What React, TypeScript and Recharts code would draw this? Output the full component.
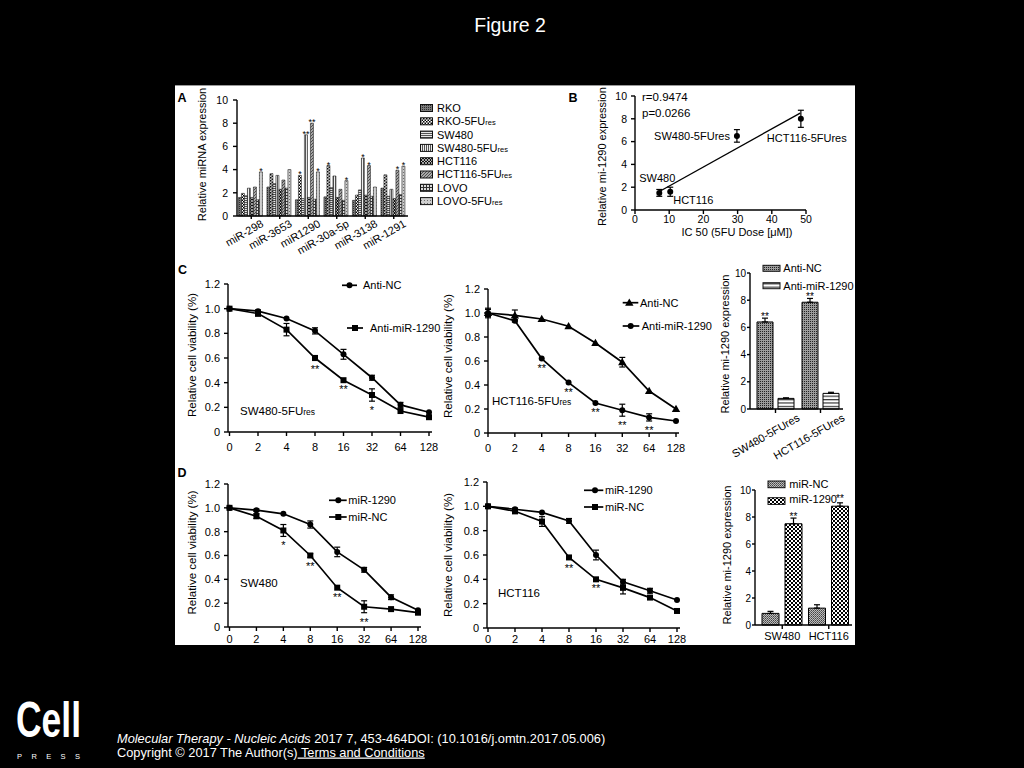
import React from "react";
import {
  Bar,
  BarChart,
  ErrorBar,
  LabelList,
  Line,
  LineChart,
  ReferenceLine,
  Scatter,
  ScatterChart,
  XAxis,
  YAxis,
} from "recharts";

// ---- A: miRNA expression in parental vs 5FU-resistant lines ----
const miRNAs = ["miR-298", "miR-3653", "miR1290", "miR-30a-5p", "miR-3138", "miR-1291"];
const cellLines = ["RKO", "RKO-5FUres", "SW480", "SW480-5FUres", "HCT116", "HCT116-5FUres", "LOVO", "LOVO-5FUres"];
const rko = [1.6, 2.5, 1.4, 1.65, 1.35, 2.4];
const rko5fu = [1.95, 3.65, 3.5, 4.35, 1.8, 3.55];
const sw480 = [1.75, 2.8, 1.5, 2.45, 2.25, 1.7];
const sw4805fu = [2.4, 3.5, 7.0, 3.45, 5.0, 2.3];
const hct116 = [1.6, 2.3, 1.6, 1.6, 1.8, 1.5];
const hct1165fu = [2.5, 3.1, 8.0, 2.3, 4.35, 3.95];
const lovo = [1.4, 2.4, 1.45, 1.35, 1.7, 1.85];
const lovo5fu = [3.8, 4.0, 3.8, 3.05, 2.5, 4.3];
const rko5fuSig = ["", "", "*", "*", "", ""];
const sw4805fuSig = ["", "", "**", "", "*", ""];
const hct1165fuSig = ["", "", "**", "", "*", "*"];
const lovo5fuSig = ["*", "", "*", "*", "", "*"];

// ---- B: miR-1290 vs IC50 ----
const bCells = ["SW480", "HCT116", "SW480-5FUres", "HCT116-5FUres"];
const bIC50 = [7.1, 10.3, 29.8, 48.5];
const bExpr = [1.5, 1.6, 6.5, 8.0];
const bErr = [0.3, 0.4, 0.55, 0.75];
const bFitX = [7, 48.3];
const bFitY = [1.6, 8.5];
const bStats = ["r=0.9474", "p=0.0266"];

// ---- C / D: viability curves ----
const doses = ["0", "2", "4", "8", "16", "32", "64", "128"];
const cSeriesNames = ["Anti-NC", "Anti-miR-1290"];
const dSeriesNames = ["miR-1290", "miR-NC"];

const cSwAntiNC = [1.0, 0.98, 0.92, 0.82, 0.63, 0.44, 0.22, 0.16];
const cSwAntiNCErr = [0, 0.01, 0, 0.025, 0.04, 0.02, 0.02, 0];
const cSwAntiMiR = [1.0, 0.96, 0.83, 0.6, 0.42, 0.3, 0.17, 0.12];
const cSwAntiMiRErr = [0, 0.02, 0.05, 0.02, 0, 0.05, 0, 0];
const cSwSig = ["", "", "", "**", "**", "*", "", ""];

const cHctAntiNC = [1.0, 0.98, 0.95, 0.89, 0.75, 0.59, 0.35, 0.2];
const cHctAntiNCErr = [0.04, 0.045, 0, 0, 0, 0.04, 0, 0];
const cHctAntiMiR = [1.0, 0.935, 0.62, 0.42, 0.25, 0.19, 0.13, 0.1];
const cHctAntiMiRErr = [0.03, 0.01, 0, 0, 0, 0.05, 0.03, 0];
const cHctSig = ["", "", "**", "**", "**", "**", "**", ""];

const cBarCells = ["SW480-5FUres", "HCT116-5FUres"];
const cBarAntiNC = [6.4, 7.85];
const cBarAntiNCErr = [0.28, 0.28];
const cBarAntiMiR = [0.78, 1.15];
const cBarAntiMiRErr = [0.04, 0.08];
const cBarSig = ["**", "**"];

const dSwMiR1290 = [1.0, 0.98, 0.95, 0.86, 0.63, 0.48, 0.25, 0.14];
const dSwMiR1290Err = [0, 0.01, 0, 0.03, 0.04, 0.02, 0.02, 0];
const dSwMiRNC = [1.0, 0.93, 0.81, 0.6, 0.33, 0.17, 0.15, 0.12];
const dSwMiRNCErr = [0, 0.02, 0.05, 0.015, 0, 0.05, 0, 0];
const dSwSig = ["", "", "*", "**", "**", "**", "", ""];

const dHctMiR1290 = [1.0, 0.976, 0.95, 0.88, 0.6, 0.38, 0.306, 0.23];
const dHctMiR1290Err = [0, 0.01, 0, 0.02, 0.04, 0.02, 0.02, 0];
const dHctMiRNC = [1.0, 0.96, 0.875, 0.58, 0.4, 0.33, 0.25, 0.14];
const dHctMiRNCErr = [0, 0.02, 0.04, 0.015, 0, 0.05, 0, 0];
const dHctSig = ["", "", "", "**", "**", "", "", ""];

const dBarCells = ["SW480", "HCT116"];
const dBarMiRNC = [0.86, 1.25];
const dBarMiRNCErr = [0.15, 0.25];
const dBarMiR1290 = [7.5, 8.8];
const dBarMiR1290Err = [0.42, 0.25];
const dBarSig = ["**", "**"];

const viabTicks = [0, 0.2, 0.4, 0.6, 0.8, 1.0, 1.2];
const exprTicks = [0, 2, 4, 6, 8, 10];

// ---- layout ----
const FONT = '"Liberation Sans", Arial, Helvetica, sans-serif';
const PX = 175;
const PY = 85;
const PW = 680;
const PH = 560;

type Plot = { x0: number; y0: number; x1: number; y1: number };

// chart box placed so that its plot area lands on p (page coords)
function frame(p: Plot, yw: number, xh: number, padR = 14, padT = 10) {
  const padL = 4;
  const padB = 4;
  return {
    style: { position: "absolute" as const, left: p.x0 - yw - padL - PX, top: p.y0 - padT - PY },
    width: p.x1 - p.x0 + yw + padL + padR,
    height: p.y1 - p.y0 + xh + padT + padB,
    margin: { top: padT, right: padR, bottom: padB, left: padL },
  };
}

const axisLine = { stroke: "#000", strokeWidth: 1.4 };
const tickLine = { stroke: "#000", strokeWidth: 1.4 };
const tickText = (size: number) => ({ fill: "#000", fontSize: size });

const aKeys = ["rko", "rko5", "sw", "sw5", "hct", "hct5", "lovo", "lovo5"];
const aValues = [rko, rko5fu, sw480, sw4805fu, hct116, hct1165fu, lovo, lovo5fu];
const aSigs = [null, rko5fuSig, null, sw4805fuSig, null, hct1165fuSig, null, lovo5fuSig];
const aFills = ["url(#pRko)", "url(#pChk)", "url(#pHor)", "url(#pVer)", "url(#pX)", "url(#pDiag)", "url(#pGrid)", "url(#pDot)"];

const aRows = miRNAs.map((m, i) => {
  const row: any = { m };
  aKeys.forEach((k, s) => {
    row[k] = aValues[s][i];
    if (aSigs[s]) row[k + "Sig"] = (aSigs[s] as string[])[i];
  });
  return row;
});

const bRows = bCells.map((name, i) => ({ name, ic50: bIC50[i], expr: bExpr[i], err: bErr[i] }));

function viabRows(a: number[], aErr: number[], b: number[], bErr: number[], sig: string[]) {
  return doses.map((dose, i) => ({ dose, a: a[i], aErr: aErr[i], b: b[i], bErr: bErr[i], sig: sig[i] }));
}

function withRes(label: string, small?: number) {
  if (!small || !label.endsWith("res")) return label;
  return (
    <>
      {label.slice(0, -3)}
      <tspan fontSize={small}>res</tspan>
    </>
  );
}

function Patterns() {
  return (
    <svg width={0} height={0} style={{ position: "absolute" }}>
      <defs>
        <pattern id="pRko" width={2} height={2} patternUnits="userSpaceOnUse">
          <rect width={2} height={2} fill="#7a7a7a" />
          <rect width={1} height={1} fill="#2e2e2e" />
        </pattern>
        <pattern id="pChk" width={3} height={3} patternUnits="userSpaceOnUse">
          <rect width={3} height={3} fill="#fff" />
          <rect width={1.5} height={1.5} fill="#000" />
          <rect x={1.5} y={1.5} width={1.5} height={1.5} fill="#000" />
        </pattern>
        <pattern id="pHor" width={3} height={2} patternUnits="userSpaceOnUse">
          <rect width={3} height={2} fill="#e8e8e8" />
          <rect width={3} height={1} fill="#555" />
        </pattern>
        <pattern id="pVer" width={2} height={3} patternUnits="userSpaceOnUse">
          <rect width={2} height={3} fill="#eee" />
          <rect width={1} height={3} fill="#555" />
        </pattern>
        <pattern id="pX" width={3} height={3} patternUnits="userSpaceOnUse">
          <rect width={3} height={3} fill="#111" />
          <path d="M0 0L3 3M3 0L0 3" stroke="#fff" strokeWidth={0.6} />
        </pattern>
        <pattern id="pDiag" width={3} height={3} patternUnits="userSpaceOnUse">
          <rect width={3} height={3} fill="#a8a8a8" />
          <path d="M-1 1L1 -1M0 3L3 0M2 4L4 2" stroke="#444" strokeWidth={0.9} />
        </pattern>
        <pattern id="pGrid" width={3} height={3} patternUnits="userSpaceOnUse">
          <rect width={3} height={3} fill="#ddd" />
          <path d="M0 0.5H3M0.5 0V3" stroke="#333" strokeWidth={1} />
        </pattern>
        <pattern id="pDot" width={3} height={3} patternUnits="userSpaceOnUse">
          <rect width={3} height={3} fill="#cfcfcf" />
          <rect x={1} y={1} width={1} height={1} fill="#707070" />
        </pattern>
        <pattern id="pDense" width={2} height={2} patternUnits="userSpaceOnUse">
          <rect width={2} height={2} fill="#9c9c9c" />
          <rect width={1} height={1} fill="#222" />
        </pattern>
        <pattern id="pStripe" width={4} height={3.4} patternUnits="userSpaceOnUse">
          <rect width={4} height={3.4} fill="#fff" />
          <rect width={4} height={1.2} fill="#333" />
        </pattern>
        <pattern id="pFine" width={2} height={2} patternUnits="userSpaceOnUse">
          <rect width={2} height={2} fill="#bbb" />
          <rect width={1} height={1} fill="#444" />
          <rect x={1} y={1} width={1} height={1} fill="#666" />
        </pattern>
        <pattern id="pBig" width={4} height={4} patternUnits="userSpaceOnUse">
          <rect width={4} height={4} fill="#fff" />
          <rect width={2} height={2} fill="#000" />
          <rect x={2} y={2} width={2} height={2} fill="#000" />
        </pattern>
      </defs>
    </svg>
  );
}

function Marker({ kind, cx, cy }: { kind: string; cx: number; cy: number }) {
  if (kind === "square") return <rect x={cx - 3} y={cy - 3} width={6} height={6} fill="#000" />;
  if (kind === "triangle")
    return <path d={`M${cx} ${cy - 4.2}L${cx + 4.2} ${cy + 3}L${cx - 4.2} ${cy + 3}Z`} fill="#000" />;
  return <circle cx={cx} cy={cy} r={3} fill="#000" />;
}

const rotTick = (dx: number, dy: number, size: number) => (p: any) => {
  const x = p.x + dx;
  const y = p.y + dy;
  return (
    <text x={x} y={y} transform={`rotate(-30 ${x} ${y})`} textAnchor="end" fontSize={size} fill="#000">
      {p.payload.value}
    </text>
  );
};

const starAbove = (lift: number, size: number) => (p: any) =>
  p.value ? (
    <text x={p.x + p.width / 2} y={p.y - lift} textAnchor="middle" fontSize={size} fill="#000">
      {p.value}
    </text>
  ) : null;

const fmtViab = (v: number) => (v === 0 ? "0" : v.toFixed(1));

function PanelA() {
  const plot = { x0: 237, y0: 99, x1: 408, y1: 215 };
  const f = frame(plot, 32, 45);
  return (
    <div style={f.style}>
      <BarChart width={f.width} height={f.height} margin={f.margin} data={aRows} barCategoryGap="5%" barGap={0}>
        <XAxis dataKey="m" interval={0} height={45} tickSize={3} axisLine={axisLine} tickLine={tickLine} tick={rotTick(13, 5, 11)} />
        <YAxis domain={[0, 10]} ticks={exprTicks} width={32} tickSize={4} tickMargin={5} axisLine={axisLine} tickLine={tickLine} tick={tickText(10.5)} />
        {aKeys.map((k, s) => (
          <Bar key={k} dataKey={k} fill={aFills[s]} stroke="#222" strokeWidth={0.6} isAnimationActive={false}>
            {aSigs[s] ? <LabelList dataKey={k + "Sig"} content={starAbove(-2, 9)} /> : null}
          </Bar>
        ))}
      </BarChart>
    </div>
  );
}

const bLabelOffset = [
  { dx: -20, dy: -15, anchor: "start" },
  { dx: 3, dy: 8, anchor: "start" },
  { dx: -7, dy: 0, anchor: "end" },
  { dx: -34, dy: 19, anchor: "start" },
];

const bPoint = (p: any) => {
  const i = bCells.indexOf(p.payload?.name);
  const o = bLabelOffset[i] || { dx: 6, dy: 0, anchor: "start" };
  return (
    <g>
      <circle cx={p.cx} cy={p.cy} r={3} fill="#000" />
      <text x={p.cx + o.dx} y={p.cy + o.dy + 11 * 0.355} fontSize={11} textAnchor={o.anchor} fill="#000">
        {p.payload?.name}
      </text>
    </g>
  );
};

function PanelB() {
  const plot = { x0: 635, y0: 95, x1: 806, y1: 209 };
  const f = frame(plot, 30, 22, 60);
  return (
    <div style={f.style}>
      <ScatterChart width={f.width} height={f.height} margin={f.margin}>
        <XAxis type="number" dataKey="ic50" domain={[0, 50]} ticks={[0, 10, 20, 30, 40, 50]} height={22} tickSize={4} tickMargin={2} axisLine={axisLine} tickLine={tickLine} tick={tickText(10.5)} />
        <YAxis type="number" dataKey="expr" domain={[0, 10]} ticks={exprTicks} width={30} tickSize={4} tickMargin={4} axisLine={axisLine} tickLine={tickLine} tick={tickText(10.5)} />
        <ReferenceLine
          segment={[
            { x: bFitX[0], y: bFitY[0] },
            { x: bFitX[1], y: bFitY[1] },
          ]}
          stroke="#000"
          strokeWidth={1.3}
        />
        <Scatter data={bRows} shape={bPoint} isAnimationActive={false}>
          <ErrorBar dataKey="err" direction="y" width={3} stroke="#000" strokeWidth={1.2} />
        </Scatter>
      </ScatterChart>
    </div>
  );
}

type SeriesDef = { key: string; err: string; kind: string; sig?: string };

const makeDot = (kind: string, sigKey: string | undefined, errKey: string, ppu: number) => (p: any) => {
  const sig = sigKey && p.payload ? p.payload[sigKey] : "";
  const err = p.payload ? p.payload[errKey] || 0 : 0;
  return (
    <g key={`d${p.index}`}>
      <Marker kind={kind} cx={p.cx} cy={p.cy} />
      {sig ? (
        <text x={p.cx} y={p.cy + 13 + err * ppu} textAnchor="middle" fontSize={11} fill="#000">
          {sig}
        </text>
      ) : null}
    </g>
  );
};

function ViabilityChart({ plot, rows, series, padL, tickGap }: { plot: Plot; rows: any[]; series: SeriesDef[]; padL: number; tickGap: number }) {
  const f = frame(plot, 36, 28);
  const ppu = (plot.y1 - plot.y0) / 1.2;
  return (
    <div style={f.style}>
      <LineChart width={f.width} height={f.height} margin={f.margin} data={rows}>
        <XAxis dataKey="dose" interval={0} padding={{ left: padL, right: 3 }} height={28} tickSize={4} tickMargin={tickGap} axisLine={axisLine} tickLine={tickLine} tick={tickText(11)} />
        <YAxis type="number" domain={[0, 1.2]} ticks={viabTicks} tickFormatter={fmtViab} width={36} tickSize={4} tickMargin={4} axisLine={axisLine} tickLine={tickLine} tick={tickText(11)} />
        {series.map((s) => (
          <Line key={s.key} type="linear" dataKey={s.key} stroke="#000" strokeWidth={1.7} dot={makeDot(s.kind, s.sig, s.err, ppu)} activeDot={false} isAnimationActive={false}>
            <ErrorBar dataKey={s.err} direction="y" width={3} stroke="#000" strokeWidth={1.2} />
          </Line>
        ))}
      </LineChart>
    </div>
  );
}

function ExprBars({ plot, rows, fills, barSize, barGap, padL, angled, lift }: any) {
  const xh = angled ? 50 : 22;
  const f = frame(plot, 26, xh, 14, 10);
  return (
    <div style={f.style}>
      <BarChart width={f.width} height={f.height} margin={f.margin} data={rows} barSize={barSize} barGap={barGap}>
        <XAxis
          dataKey="c"
          interval={0}
          height={xh}
          padding={{ left: padL, right: 0 }}
          tickSize={4}
          tickMargin={angled ? 2 : 3}
          axisLine={axisLine}
          tickLine={tickLine}
          tick={angled ? rotTick(25, 5, 11) : tickText(11)}
        />
        <YAxis domain={[0, 10]} ticks={exprTicks} width={26} tickSize={3} tickMargin={1} axisLine={axisLine} tickLine={tickLine} tick={tickText(10)} />
        <Bar dataKey="v1" fill={fills[0]} stroke="#000" strokeWidth={1} isAnimationActive={false}>
          <ErrorBar dataKey="e1" direction="y" width={3} stroke="#000" strokeWidth={1.2} />
          <LabelList dataKey="sig1" content={starAbove(lift, 10)} />
        </Bar>
        <Bar dataKey="v2" fill={fills[1]} stroke="#000" strokeWidth={1} isAnimationActive={false}>
          <ErrorBar dataKey="e2" direction="y" width={3} stroke="#000" strokeWidth={1.2} />
          <LabelList dataKey="sig2" content={starAbove(lift, 10)} />
        </Bar>
      </BarChart>
    </div>
  );
}

const cBarRows = cBarCells.map((c, i) => ({
  c,
  v1: cBarAntiNC[i],
  e1: [0, cBarAntiNCErr[i]],
  v2: cBarAntiMiR[i],
  e2: [0, cBarAntiMiRErr[i]],
  sig1: cBarSig[i],
  sig2: "",
}));

const dBarRows = dBarCells.map((c, i) => ({
  c,
  v1: dBarMiRNC[i],
  e1: [0, dBarMiRNCErr[i]],
  v2: dBarMiR1290[i],
  e2: [0, dBarMiR1290Err[i]],
  sig1: "",
  sig2: dBarSig[i],
}));

function Txt({ x, y, size = 11, anchor = "start", weight, children }: any) {
  return (
    <text x={x} y={y + size * 0.355} fontSize={size} textAnchor={anchor} fontWeight={weight} fill="#000">
      {children}
    </text>
  );
}

function VTxt({ x, y, size = 11, anchor = "middle", children }: any) {
  return (
    <text transform={`translate(${x} ${y}) rotate(-90)`} x={0} y={size * 0.355} fontSize={size} textAnchor={anchor} fill="#000">
      {children}
    </text>
  );
}

function LineKey({ x1, x2, mx, y, kind, tx, label }: any) {
  return (
    <g>
      <line x1={x1} x2={x2} y1={y} y2={y} stroke="#000" strokeWidth={1.7} />
      <Marker kind={kind} cx={mx} cy={y} />
      <Txt x={tx} y={y} size={11}>
        {label}
      </Txt>
    </g>
  );
}

function BoxKey({ x, y, w, h, fill, tx, ty, label }: any) {
  return (
    <g>
      <rect x={x} y={y} width={w} height={h} fill={fill} stroke="#111" strokeWidth={1} />
      <Txt x={tx} y={ty} size={11}>
        {label}
      </Txt>
    </g>
  );
}

function Overlay() {
  return (
    <svg width={PW} height={PH} viewBox={`${PX} ${PY} ${PW} ${PH}`} style={{ position: "absolute", left: 0, top: 0 }}>
      <Txt x={182} y={97} size={12.5} anchor="middle" weight={700}>A</Txt>
      <Txt x={573} y={97} size={12.5} anchor="middle" weight={700}>B</Txt>
      <Txt x={182.5} y={269} size={12.5} anchor="middle" weight={700}>C</Txt>
      <Txt x={182} y={472} size={12.5} anchor="middle" weight={700}>D</Txt>

      <VTxt x={202} y={153.5} size={11}>Relative miRNA expression</VTxt>
      {cellLines.map((name, i) => (
        <BoxKey key={name} x={420.5} y={107 + i * 13.3 - 3.5} w={12} h={7} fill={aFills[i]} tx={437} ty={107 + i * 13.3} label={withRes(name, 7.5)} />
      ))}

      <VTxt x={602} y={225} size={11} anchor="start">Relative mi-1290 expression</VTxt>
      <Txt x={737} y={231} size={11} anchor="middle">IC 50 (5FU Dose [μM])</Txt>
      <Txt x={642} y={96} size={11.5}>{bStats[0]}</Txt>
      <Txt x={642} y={112} size={11.5}>{bStats[1]}</Txt>

      <VTxt x={192} y={354} size={11.5}>Relative cell viability (%)</VTxt>
      <Txt x={240} y={410} size={11.5}>{withRes("SW480-5FUres", 8.5)}</Txt>
      <LineKey x1={342} x2={357} mx={349.5} y={284.3} kind="circle" tx={363} label={cSeriesNames[0]} />
      <LineKey x1={347} x2={363} mx={355} y={327} kind="square" tx={370} label={cSeriesNames[1]} />

      <VTxt x={447.5} y={355} size={11.5}>Relative cell viability (%)</VTxt>
      <Txt x={492} y={400} size={11.5}>{withRes("HCT116-5FUres", 8.5)}</Txt>
      <LineKey x1={622.7} x2={638.3} mx={629.3} y={301.7} kind="triangle" tx={640} label={cSeriesNames[0]} />
      <LineKey x1={622.7} x2={639.3} mx={630.7} y={325} kind="circle" tx={641.7} label={cSeriesNames[1]} />

      <VTxt x={725} y={343} size={11}>Relative mi-1290 expression</VTxt>
      <BoxKey x={763} y={264.3} w={17} h={6} fill="url(#pDense)" tx={783.3} ty={267.2} label={cSeriesNames[0]} />
      <BoxKey x={763} y={281.7} w={17} h={6} fill="url(#pStripe)" tx={783.3} ty={284.7} label={cSeriesNames[1]} />

      <VTxt x={192} y={551.5} size={11.5}>Relative cell viability (%)</VTxt>
      <Txt x={240} y={582} size={11.5}>SW480</Txt>
      <LineKey x1={329} x2={346.7} mx={338.3} y={499.3} kind="circle" tx={348.3} label={dSeriesNames[0]} />
      <LineKey x1={329} x2={346.7} mx={338.3} y={516} kind="square" tx={348.3} label={dSeriesNames[1]} />

      <VTxt x={447.5} y={554} size={11.5}>Relative cell viability (%)</VTxt>
      <Txt x={498} y={592} size={11.5}>HCT116</Txt>
      <LineKey x1={584} x2={603.3} mx={595} y={489.3} kind="circle" tx={605} label={dSeriesNames[0]} />
      <LineKey x1={584} x2={603.3} mx={595} y={506} kind="square" tx={605} label={dSeriesNames[1]} />

      <VTxt x={727} y={554} size={11}>Relative mi-1290 expression</VTxt>
      <BoxKey x={768} y={480} w={17} h={6.7} fill="url(#pFine)" tx={789.3} ty={483.3} label={dSeriesNames[1]} />
      <BoxKey x={768} y={496.7} w={17} h={6.7} fill="url(#pBig)" tx={789.3} ty={498} label={dSeriesNames[0]} />
    </svg>
  );
}

export default function App() {
  const cSeries: SeriesDef[] = [
    { key: "a", err: "aErr", kind: "circle" },
    { key: "b", err: "bErr", kind: "square", sig: "sig" },
  ];
  const cHctSeries: SeriesDef[] = [
    { key: "a", err: "aErr", kind: "triangle" },
    { key: "b", err: "bErr", kind: "circle", sig: "sig" },
  ];
  const dSeries: SeriesDef[] = [
    { key: "a", err: "aErr", kind: "circle" },
    { key: "b", err: "bErr", kind: "square", sig: "sig" },
  ];
  return (
    <div style={{ position: "absolute", left: 0, top: 0, width: 1024, height: 768, background: "#000", fontFamily: FONT, overflow: "hidden" }}>
      <Patterns />
      <svg width={1024} height={768} style={{ position: "absolute", left: 0, top: 0 }} fontFamily={FONT}>
        <text x={510} y={32} textAnchor="middle" fontSize={19.5} fill="#fff">Figure 2</text>
        <text x={16} y={737} fontSize={50} fontWeight={700} fill="#fff" textLength={65} lengthAdjust="spacingAndGlyphs">Cell</text>
        <text x={17} y={759} fontSize={7.5} fill="#fff" textLength={63} lengthAdjust="spacing">PRESS</text>
        <text x={117} y={742.5} fontSize={12.8} fill="#fff">
          <tspan fontStyle="italic">Molecular Therapy - Nucleic Acids</tspan> 2017 7, 453-464DOI: (10.1016/j.omtn.2017.05.006)
        </text>
        <text x={117} y={756.5} fontSize={12.8} fill="#fff">
          Copyright © 2017 The Author(s)<tspan style={{ textDecoration: "underline" }}> Terms and Conditions</tspan>
        </text>
      </svg>
      <div style={{ position: "absolute", left: PX, top: PY, width: PW, height: PH, background: "#fff", overflow: "hidden", borderTop: "1px solid #999", boxSizing: "border-box" }}>
        <PanelA />
        <PanelB />
        <ViabilityChart plot={{ x0: 228, y0: 283, x1: 432, y1: 431 }} rows={viabRows(cSwAntiNC, cSwAntiNCErr, cSwAntiMiR, cSwAntiMiRErr, cSwSig)} series={cSeries} padL={1.5} tickGap={7} />
        <ViabilityChart plot={{ x0: 488, y0: 288, x1: 679, y1: 432 }} rows={viabRows(cHctAntiNC, cHctAntiNCErr, cHctAntiMiR, cHctAntiMiRErr, cHctSig)} series={cHctSeries} padL={0} tickGap={7} />
        <ExprBars plot={{ x0: 750, y0: 272, x1: 843, y1: 408 }} rows={cBarRows} fills={["url(#pDense)", "url(#pStripe)"]} barSize={16} barGap={5} padL={3} angled={true} lift={2} />
        <ViabilityChart plot={{ x0: 228, y0: 483, x1: 421, y1: 626 }} rows={viabRows(dSwMiR1290, dSwMiR1290Err, dSwMiRNC, dSwMiRNCErr, dSwSig)} series={dSeries} padL={1.5} tickGap={4} />
        <ViabilityChart plot={{ x0: 487, y0: 481, x1: 680, y1: 627 }} rows={viabRows(dHctMiR1290, dHctMiR1290Err, dHctMiRNC, dHctMiRNCErr, dHctSig)} series={dSeries} padL={1} tickGap={3} />
        <ExprBars plot={{ x0: 755, y0: 489, x1: 852, y1: 624 }} rows={dBarRows} fills={["url(#pFine)", "url(#pBig)"]} barSize={17} barGap={6} padL={4} angled={false} lift={4} />
        <Overlay />
      </div>
    </div>
  );
}
